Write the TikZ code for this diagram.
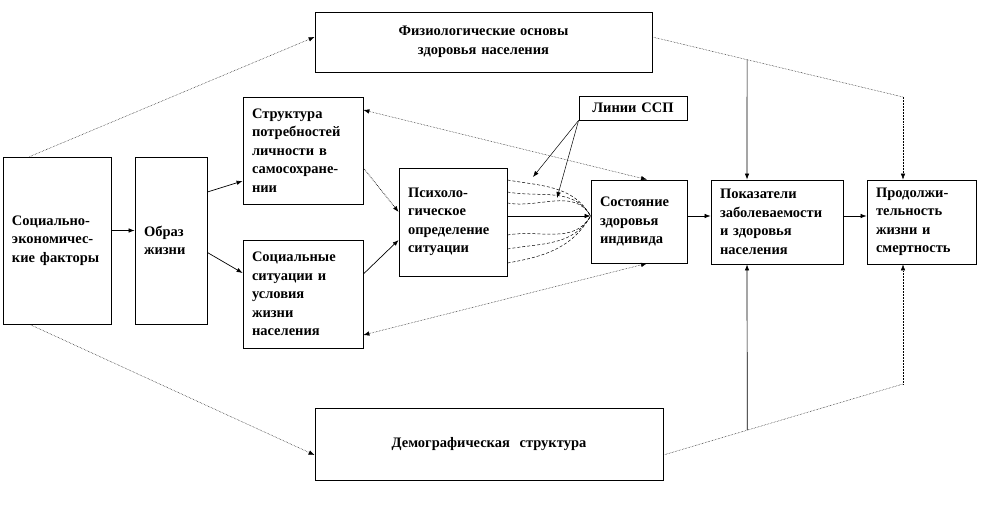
\documentclass[tikz,border=0pt]{standalone}
\usepackage{fontspec}
\setmainfont{Liberation Serif}
\usetikzlibrary{arrows.meta,calc}

\begin{document}
\begin{tikzpicture}[x=1pt,y=-1pt,
            block/.style={draw,rectangle,line width=.8pt,inner xsep=9pt,inner ysep=0pt,align=left,
              font=\fontsize{14.5}{18.5}\selectfont\bfseries},
            wide/.style={block,align=center},
            link/.style={draw,->,line width=.7pt},
            faint/.style={draw,line width=.5pt,densely dotted},
            fan/.style={draw,line width=.5pt,dash pattern=on 3pt off 2pt},
            >={Latex[length=6pt,width=4.5pt]}
          ]
          \useasboundingbox (0,0) rectangle (987,516);

          % left column
          \node[block,text width=90pt,minimum height=167pt] (socio) at (57,240.5) {Социально-\\экономичес-\\кие факторы};
          \node[block,text width=54pt,minimum height=167pt] (obraz) at (171,240.5) {Образ\\жизни};
          \node[block,text width=102pt,minimum height=107pt] (struct) at (303,150.5) {Структура\\потребностей\\личности в\\самосохране-\\нии};
          \node[block,text width=102pt,minimum height=108pt] (social) at (303,294) {Социальные\\ситуации и\\условия\\жизни\\населения};
          \node[block,text width=90pt,minimum height=108pt] (psycho) at (453,222) {Психоло-\\гическое\\определение\\ситуации};

          % right column
          \node[wide,text width=90pt,minimum height=24pt] (ssp) at (633,108) {Линии ССП};
          \node[block,text width=78pt,minimum height=83pt] (state) at (639,221.5) {Состояние\\здоровья\\индивида};
          \node[block,text width=114pt,minimum height=84pt] (pokaz) at (777,222) {Показатели\\заболеваемости\\и здоровья\\населения};
          \node[block,text width=91pt,minimum height=84pt] (prod) at (921.5,222) {Продолжи-\\тельность\\жизни и\\смертность};

          % top and bottom
          \node[wide,text width=319pt,minimum height=60pt] (phys) at (483.5,42) {Физиологические основы\\здоровья населения};
          \node[wide,text width=330pt,minimum height=72pt] (demo) at (489,444) {Демографическая\ \ структура};

          % helper points
          \coordinate (fanend) at ([yshift=5.5pt]state.west);
          \coordinate (ssp1) at (533,177);
          \coordinate (ssp2) at (557,198);
          \coordinate (physout) at ([yshift=5pt]phys.east);
          \coordinate (physturn) at (903,97);
          \coordinate (physjoin) at ($(physout)!0.378!(physturn)$);
          \coordinate (demoout) at ([yshift=-11pt]demo.east);
          \coordinate (demoturn) at (903,384);
          \coordinate (demojoin) at ($(demoout)!0.35!(demoturn)$);

          % main chain
          \path
          ([yshift=10pt]socio.east) edge[link] ([yshift=10pt]obraz.west)
          ([yshift=48.5pt]obraz.east) edge[link] ([yshift=-30.5pt]struct.west)
          ([yshift=-12pt]obraz.east) edge[link] ([yshift=21pt]social.west)
          ([yshift=-17.5pt]struct.east) edge[link,densely dotted] ([yshift=10pt]psycho.west)
          ([yshift=20pt]social.east) edge[link] ([yshift=-18pt]psycho.west)
          ([yshift=6pt]psycho.east) edge[link] (fanend)
          ([yshift=5.5pt]state.east) edge[link] ([yshift=6pt]pokaz.west)
          ([yshift=6pt]pokaz.east) edge[link] ([yshift=6pt]prod.west)
          ;

          %dashed fan
          \foreach \s in {42,30,19}
            \draw[fan] ([yshift=\s pt]psycho.east) to[out=-10,in=120] (fanend);
          \foreach \s in {-13,-27,-41}
            \draw[fan] ([yshift=\s pt]psycho.east) to[out=10,in=-120] (fanend);

          %lines SSP
          \draw[->,line width=.5pt] (ssp.south west) -- (ssp1);
          \draw[->,line width=.5pt] (ssp.south west) -- (ssp2);

          %feedback
          \draw[faint,<->] ([yshift=40.5pt]struct.east) -- ([xshift=8pt]state.north);
          \draw[faint,<->] ([yshift=-41pt]social.east) -- ([xshift=8pt]state.south);

          % socio to top and bottom
          \draw[faint,->] ([xshift=27pt]socio.north west) -- ([yshift=5pt]phys.west);
          \draw[faint,->] ([xshift=27pt]socio.south west) -- ([yshift=-11pt]demo.west);

          % physiology and demography
          \draw[faint] (physout) -- (physturn);
          \draw[faint,->] (physturn) -- ([xshift=-18.5pt]prod.north);
          \draw[link] (physjoin) -- ([xshift=-30pt]pokaz.north);
          \draw[faint] (demoout) -- (demoturn);
          \draw[faint,->] (demoturn) -- ([xshift=-18.5pt]prod.south);
          \draw[link] (demojoin) -- ([xshift=-30pt]pokaz.south);

      \end{tikzpicture}
\end{document}
